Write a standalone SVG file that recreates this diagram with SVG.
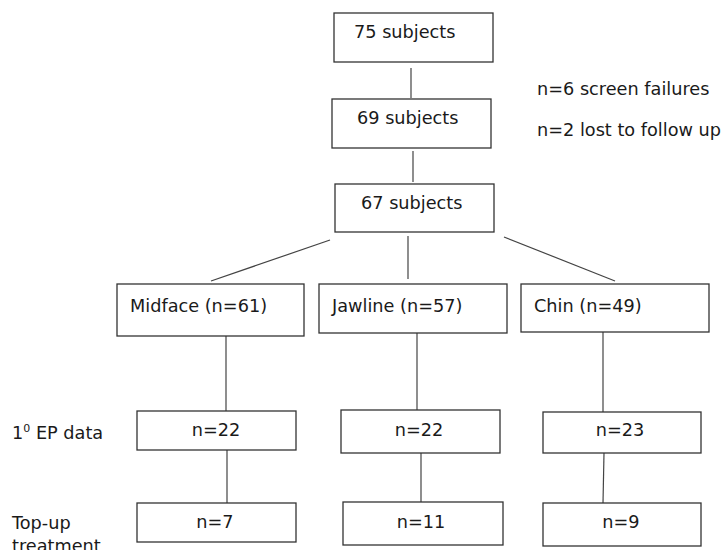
<svg xmlns="http://www.w3.org/2000/svg" width="728" height="550" viewBox="0 0 728 550">
<style>
rect{fill:#fff;stroke:#333;stroke-width:1.3}
text{font-family:"DejaVu Sans",Verdana,sans-serif;font-size:17.7px;fill:#1a1a1a}
.c line{stroke:#444;stroke-width:1.2}
.m{text-anchor:middle}
</style>
<rect x="0" y="0" width="728" height="550" style="stroke:none"/>
<g class="c" id="connectors">
<line x1="411" y1="68" x2="411" y2="98"/>
<line x1="413" y1="151" x2="413" y2="182"/>
<line x1="408" y1="236" x2="408" y2="279"/>
<line x1="330" y1="240" x2="211" y2="281"/>
<line x1="504" y1="237" x2="615" y2="281"/>
<line x1="226" y1="336" x2="226" y2="411"/>
<line x1="417" y1="333" x2="417" y2="410"/>
<line x1="603" y1="332" x2="603" y2="412"/>
<line x1="227" y1="450" x2="227" y2="503"/>
<line x1="421" y1="453" x2="421" y2="502"/>
<line x1="604" y1="453" x2="603" y2="503"/>
</g>
<g id="n75"><rect x="334" y="13" width="159" height="49"/><text x="354" y="38">75 subjects</text></g>
<g id="n69"><rect x="332" y="99" width="159" height="49"/><text x="357" y="124">69 subjects</text></g>
<g id="n67"><rect x="335" y="184" width="159" height="48"/><text x="361" y="209">67 subjects</text></g>
<g id="midface"><rect x="117" y="284" width="187" height="52"/><text x="130" y="312">Midface (n=61)</text></g>
<g id="jawline"><rect x="319" y="284" width="188" height="49"/><text x="332" y="312">Jawline (n=57)</text></g>
<g id="chin"><rect x="521" y="284" width="188" height="48"/><text x="534" y="312">Chin (n=49)</text></g>
<g id="m_ep"><rect x="137" y="411" width="159" height="39"/><text class="m" x="216" y="436">n=22</text></g>
<g id="j_ep"><rect x="341" y="410" width="159" height="43"/><text class="m" x="419" y="436">n=22</text></g>
<g id="c_ep"><rect x="543" y="412" width="158" height="41"/><text class="m" x="620" y="436">n=23</text></g>
<g id="m_tu"><rect x="137" y="503" width="159" height="39"/><text class="m" x="215" y="528">n=7</text></g>
<g id="j_tu"><rect x="343" y="502" width="160" height="43"/><text class="m" x="421" y="528">n=11</text></g>
<g id="c_tu"><rect x="543" y="503" width="158" height="43"/><text class="m" x="621" y="528">n=9</text></g>
<g id="labels">
<text x="537" y="95">n=6 screen failures</text>
<text x="537" y="136">n=2 lost to follow up</text>
<text x="12" y="439">1<tspan dy="-7" font-size="11">0</tspan><tspan dy="7"> EP data</tspan></text>
<text x="12" y="529">Top-up</text>
<text x="12" y="552">treatment</text>
</g>
</svg>
